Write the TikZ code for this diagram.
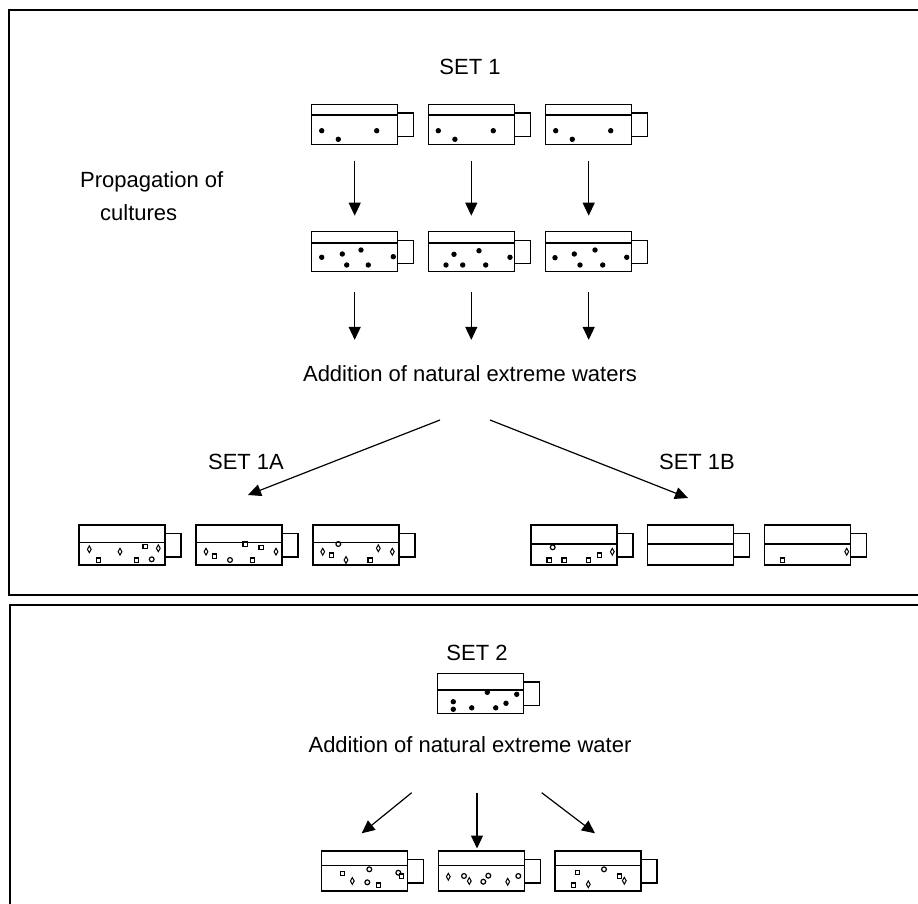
\documentclass[tikz,border=0pt]{standalone}
\usepackage{fontspec}
\setmainfont{Liberation Sans}
\usetikzlibrary{positioning,arrows.meta}
\tikzset{frame/.style={line width=1.8pt}}
\tikzset{flow/.style={-{Triangle[length=13pt,width=12pt]},line width=1.2pt}}
\tikzset{txt/.style={font=\fontsize{22}{26}\selectfont,inner sep=0pt,anchor=base}}
\tikzset{pics/flask/.style={code={
  \node[draw,line width=1.4pt,minimum width=86pt,minimum height=40pt,
        inner sep=0pt,outer sep=0pt,anchor=north west] (-body) at (0,0) {};
  \draw[line width=1.3pt] (0,#1) -- (86,#1);
  \draw[line width=1.4pt] (86,8.5) -| (102,32) -- (86,32);
}}}
\tikzset{pics/grain/.style={code={\fill (0,0) circle (2.7);}}}
\tikzset{pics/cell/.style={code={\draw[line width=1.2pt] (-2.1,-2.1) rectangle (2.1,2.1);}}}
\tikzset{pics/spore/.style={code={\draw[line width=1pt] (0,-3.4) -- (1.9,0) -- (0,3.4) -- (-1.9,0) -- cycle;}}}
\tikzset{pics/ring/.style={code={\draw[line width=1.2pt] (0,0) circle (2.4);}}}

\begin{document}
\begin{tikzpicture}[x=1pt,y=-1pt]
  \useasboundingbox (0,0) rectangle (918,904);

  % the two panels
  \draw[frame] (930,10) -- (9,10) -- (9,595) -- (930,595);
  \draw[frame] (930,605) -- (10,605) -- (10,920);

  % Set 1: propagation
  \node[txt] (set1) at (470,75) {SET 1};
  \node[txt,anchor=base west] (prop1) at (80,188) {Propagation of};
  \node[txt,anchor=base west] (prop2) at (100,220) {cultures};
  \node[txt] (add1) at (470,381) {Addition of natural extreme waters};

  \foreach \n/\x in {1/311.7,2/428.3,3/545.7}{
    \pic (top\n) at (\x,104.7) {flask=10.3};
    \pic (mid\n) at (\x,231.7) {flask=11.3};
    \foreach \dx/\dy in {10/26,26.6/34.6,65/26}
      \pic at (\x+\dx,104.7+\dy) {grain};
    \draw[flow,shorten <=16pt,shorten >=16pt] (top\n-body.south) -- (mid\n-body.north);
    \draw[flow,shorten <=20pt,shorten >=25pt] (mid\n-body.south) -- (mid\n-body.south |- add1.north);
  }
  \begin{scope}[shift={(311.7,231.7)}]
    \foreach \dx/\dy in {10/25.6,30.6/22.3,49.3/18.3,35/33.3,56.6/33.3,81.6/25}
      \pic at (\dx,\dy) {grain};
  \end{scope}
  \begin{scope}[shift={(428.3,231.7)}]
    \foreach \dx/\dy in {25.7/22.6,50.7/19,17.7/33.3,34.4/33.3,57.4/33.3,81.7/25.6}
      \pic at (\dx,\dy) {grain};
  \end{scope}
  \begin{scope}[shift={(545.7,231.7)}]
    \foreach \dx/\dy in {9.3/26,28.6/22.3,49.3/18.3,34.3/33.3,57/33.3,81/25.6}
      \pic at (\dx,\dy) {grain};
  \end{scope}

  % split into 1A and 1B
  \coordinate (outA) at (440,420);
  \coordinate (inA) at (248,495);
  \coordinate (outB) at (490,420);
  \coordinate (inB) at (688,498);
  \draw[flow] (outA) -- (inA);
  \draw[flow] (outB) -- (inB);
  \node[txt] (set1a) at (246,469) {SET 1A};
  \node[txt] (set1b) at (697,469) {SET 1B};

  \foreach \n/\x in {1/79,2/196,3/313}
    \pic (a\n) at (\x,525) {flask=17.3};
  \foreach \n/\x in {1/531,2/647.7,3/764.3}
    \pic (b\n) at (\x,525) {flask=19};

  \begin{scope}[shift={(79,525)}]
    \foreach \dx/\dy in {10.3/24.3,41/26.7,79.3/23.3} \pic at (\dx,\dy) {spore};
    \foreach \dx/\dy in {66/21.7,19.3/35,57.7/35} \pic at (\dx,\dy) {cell};
    \pic at (72.7,34.3) {ring};
  \end{scope}
  \begin{scope}[shift={(196,525)}]
    \foreach \dx/\dy in {10/26.7,80/26.7} \pic at (\dx,\dy) {spore};
    \foreach \dx/\dy in {18.3/31,49/19,65/22.3,56.7/35} \pic at (\dx,\dy) {cell};
    \pic at (34,35) {ring};
  \end{scope}
  \begin{scope}[shift={(313,525)}]
    \foreach \dx/\dy in {9.7/26.7,33/35,65.3/23.3,79.3/26.7} \pic at (\dx,\dy) {spore};
    \foreach \dx/\dy in {18.7/30,57/35} \pic at (\dx,\dy) {cell};
    \pic at (25.3,19) {ring};
  \end{scope}
  \begin{scope}[shift={(531,525)}]
    \foreach \dx/\dy in {18/35,33/35,57.3/35,68.3/30} \pic at (\dx,\dy) {cell};
    \pic at (21.7,22.3) {ring};
    \pic at (81.3,26.7) {spore};
  \end{scope}
  \begin{scope}[shift={(764.3,525)}]
    \pic at (18.4,35) {cell};
    \pic at (82.4,26.7) {spore};
  \end{scope}

  % Set 2
  \node[txt] (set2) at (477,660) {SET 2};
  \pic (s) at (437.7,673.3) {flask=16.7};
  \begin{scope}[shift={(437.7,673.3)}]
    \foreach \dx/\dy in {15.6/28.4,15.6/36,34/34.5,49.6/19,58/34.5,68.3/30,79/21}
      \pic at (\dx,\dy) {grain};
  \end{scope}
  \node[txt] (add2) at (470,752) {Addition of natural extreme water};

  \foreach \n/\x in {1/321.7,2/438.3,3/555}
    \pic (c\n) at (\x,851) {flask=14.7};

  \coordinate (outL) at (411.7,792.7);
  \coordinate (inL) at (361.7,833.3);
  \coordinate (outM) at (477,792.7);
  \coordinate (outR) at (541.7,792.7);
  \coordinate (inR) at (595,833.3);
  \draw[flow] (outL) -- (inL);
  \draw[flow,shorten >=2.5pt] (outM) -- (outM |- c2-body.north);
  \draw[flow] (outR) -- (inR);

  \begin{scope}[shift={(321.7,851)}]
    \foreach \dx/\dy in {21/22.3,56.6/34,80/25} \pic at (\dx,\dy) {cell};
    \pic at (30.6,30) {spore};
    \foreach \dx/\dy in {47.6/18.3,45.6/31.3,76.6/21.7} \pic at (\dx,\dy) {ring};
  \end{scope}
  \begin{scope}[shift={(438.3,851)}]
    \foreach \dx/\dy in {25.7/25,50/24.7,45/30.7,80/25} \pic at (\dx,\dy) {ring};
    \foreach \dx/\dy in {10/25.7,31/30,69.4/30.7} \pic at (\dx,\dy) {spore};
  \end{scope}
  \begin{scope}[shift={(555,851)}]
    \foreach \dx/\dy in {22.7/21.7,18.3/34,64.3/25} \pic at (\dx,\dy) {cell};
    \foreach \dx/\dy in {33.3/33.3,69.3/29.7} \pic at (\dx,\dy) {spore};
    \pic at (49,18.3) {ring};
  \end{scope}
\end{tikzpicture}
\end{document}
